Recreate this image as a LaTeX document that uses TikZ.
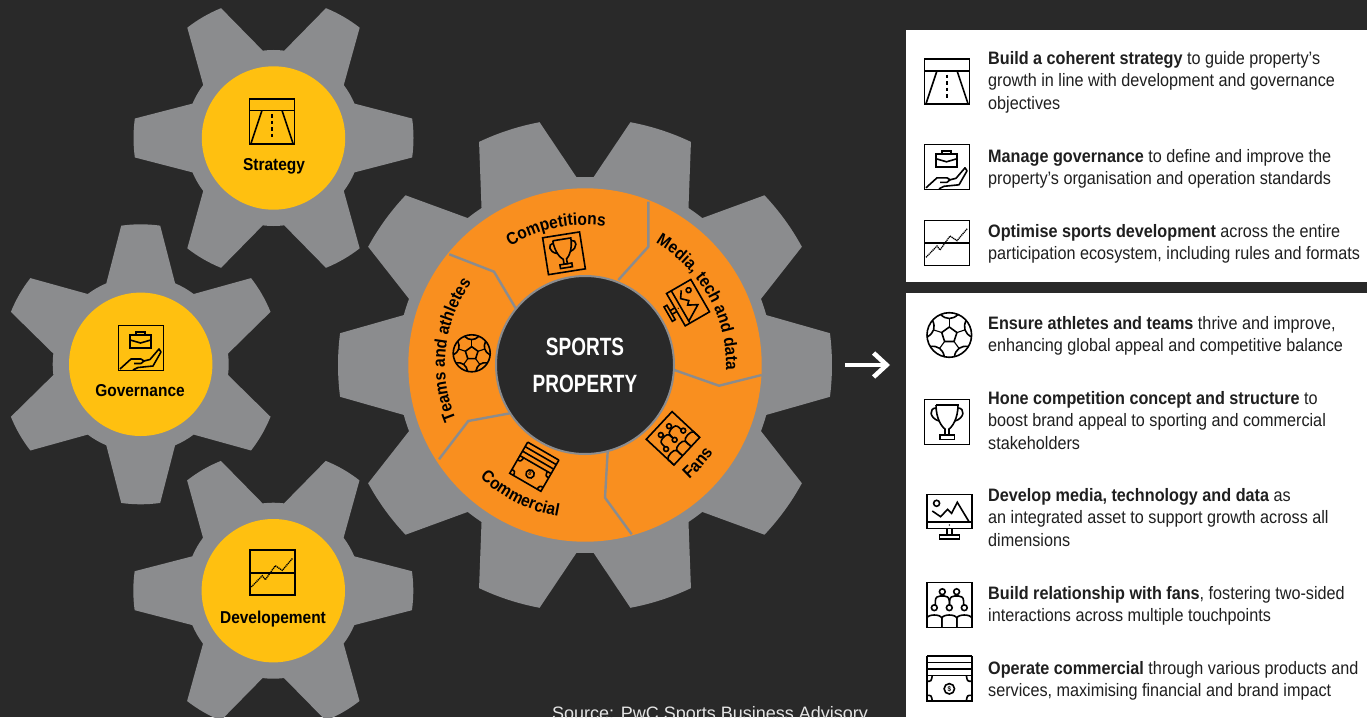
\documentclass[tikz,border=0pt]{standalone}
\usepackage{fontspec}
\setmainfont[FakeStretch=0.9]{Liberation Sans}
\newfontfamily\sourcefont{Liberation Sans}
\newfontfamily\centrefont[FakeStretch=0.76]{Liberation Sans}
\usetikzlibrary{arrows.meta,decorations.text}

\definecolor{bgdark}{HTML}{292929}
\definecolor{geargray}{HTML}{8B8C8E}
\definecolor{gearyellow}{HTML}{FFC010}
\definecolor{ringorange}{HTML}{F98F1F}
\definecolor{inkdark}{HTML}{1F1F1F}

\newcommand{\labelfont}{\fontsize{17.2}{20}\selectfont\bfseries}

\tikzset{
	yellowdisc/.style={circle, fill=gearyellow, minimum size=143.4pt, inner sep=0pt},
	gearlabel/.style={anchor=base, text=black, font=\labelfont},
	bullettext/.style={anchor=north west, inner sep=0pt, align=left, text=inkdark, font=\fontsize{18}{22.4}\selectfont},
	ringlabel/.style={decorate, decoration={text along path, text align=center, text={|\labelfont|#1}}},
	icon/.style={line width=1.6pt, draw=black},
	smallgear/.pic={
		\fill[geargray] (-23:88)
			\foreach \a in {0,60,...,300}{
				-- ({\a-23}:88) -- ({\a-8}:140) arc[start angle=\a-8, end angle=\a+8, radius=140]
				-- ({\a+23}:88) arc[start angle=\a+23, end angle=\a+37, radius=88]
			} -- cycle;
	},
	biggear/.pic={
		\fill[geargray] (-15.4:188)
			\foreach \a in {0,36,...,324}{
				-- ({\a-15.4}:188) -- ({\a-7.4}:247) arc[start angle=\a-7.4, end angle=\a+7.4, radius=247]
				-- ({\a+15.4}:188) arc[start angle=\a+15.4, end angle=\a+20.6, radius=188]
			} -- cycle;
	},
	iconroad/.pic={
		\draw[icon] (-22.5,-22.5) rectangle (22.5,22.5);
		\draw[icon] (-22.5,11) -- (22.5,11);
		\draw[icon] (-21,-22) -- (-10,11);
		\draw[icon] (21,-22) -- (10,11);
		\draw[icon, dash pattern=on 3.5pt off 3pt] (0,7) -- (0,-18);
	},
	iconcase/.pic={
		\draw[icon] (-22.5,-22.5) rectangle (22.5,22.5);
		\draw[icon] (-10.8,0) rectangle (9.8,13);
		\draw[icon] (-10.8,8) -- (-.5,5) -- (9.8,8);
		\draw[icon] (-5,13) -- (-5,16) -- (4,16) -- (4,13);
		\draw[icon, line join=round] (-21,-21) -- (-10,-11) -- (0,-11) -- (3,-13) -- (0,-15.5) -- (-7,-15.5);
		\draw[icon, line join=round] (3,-13) -- (9,-11.5) -- (18,-1) -- (20,-4) -- (12,-18) -- (-3,-19.5) -- (-8,-22);
	},
	iconchart/.pic={
		\draw[icon] (-22.5,-22.5) rectangle (22.5,22.5);
		\draw[icon] (-22.5,0) -- (22.5,0);
		\draw[line width=1.3pt, dash pattern=on 1.2pt off .7pt] (-21,-14.3) -- (-10,-3) -- (-7,-7) -- (3,7) -- (10,2.3) -- (20.5,14.7);
	},
	iconball/.pic={
		\draw[icon] (0,0) circle (22.3);
		\draw[icon, line join=round] (90:8) -- (162:8) -- (234:8) -- (306:8) -- (18:8) -- cycle;
		\foreach \a in {18,90,162,234,306}{
			\draw[line width=1.1pt] (\a:8) -- (\a:17);
			\draw[icon] ({\a-23}:22.3) .. controls ({\a-12}:15.5) and ({\a+12}:15.5) .. ({\a+23}:22.3);
		}
	},
	icontrophy/.pic={
		\draw[icon] (-22.5,-22.5) rectangle (22.5,22.5);
		\draw[icon] (-11,17) -- (11,17) .. controls (11,3) and (5,-5) .. (2,-7) -- (2,-13) -- (-2,-13) -- (-2,-7) .. controls (-5,-5) and (-11,3) .. (-11,17);
		\draw[icon] (-7,-13) rectangle (7.5,-17.5);
		\draw[icon] (-11,14) .. controls (-18,14) and (-18,4) .. (-8,1);
		\draw[icon] (11,14) .. controls (18,14) and (18,4) .. (8,1);
	},
	iconscreen/.pic={
		\draw[icon] (-22.5,-11.3) rectangle (22.5,22.5);
		\draw[icon] (-22.5,-4.7) -- (22.5,-4.7);
		\draw[icon] (-2.5,-11.3) -- (-2.5,-18) (2.5,-11.3) -- (2.5,-18);
		\draw[icon] (-10,-18) rectangle (10,-22);
		\draw[icon] (-17,6) -- (-8.7,.3) -- (-1.7,7.7) -- (2.3,3.7) -- (8,14.7) -- (19.7,-4.7);
		\draw[icon] (-12.7,13.7) circle (3);
		\fill (0,-8) circle (.8);
	},
	iconfans/.pic={
		\draw[icon] (-22.5,-22.5) rectangle (22.5,22.5);
		\foreach \c in {-7,7.3}{
			\draw[icon] (\c,13.3) circle (2.9);
			\draw[icon] ({\c-7},0) -- ({\c-7},4) .. controls ({\c-7},8) and ({\c-4},9) .. ({\c-2},9) -- ({\c+2},9) .. controls ({\c+4},9) and ({\c+7},8) .. ({\c+7},4) -- ({\c+7},0);
		}
		\foreach \c in {-15,0,15}{
			\draw[icon] (\c,-2.7) circle (2.9);
			\draw[icon] ({\c-7.5},-22.5) -- ({\c-7.5},-13) .. controls ({\c-6},-9) and ({\c+6},-9) .. ({\c+7.5},-13) -- ({\c+7.5},-22.5);
		}
	},
	iconmoney/.pic={
		\draw[icon] (-22.5,22.5) -- (22.5,22.5) (-22.5,16) -- (22.5,16) (-22.5,9.5) -- (22.5,9.5);
		\draw[icon] (-22.5,22.5) -- (-22.5,3) (22.5,22.5) -- (22.5,3);
		\draw[icon] (-22.5,3) -- (22.5,3) -- (22.5,-22.5) -- (-22.5,-22.5) -- cycle;
		\draw[icon] (-22.5,-3) .. controls (-18,-3) .. (-17,3) (22.5,-3) .. controls (18,-3) .. (17,3) (-22.5,-17) .. controls (-18,-17) .. (-17,-22.5) (22.5,-17) .. controls (18,-17) .. (17,-22.5);
		\draw[icon] (0,-10.5) circle (5.2);
		\node[transform shape, inner sep=0pt, font=\fontsize{7}{7}\selectfont\bfseries] (dollar) at (0,-10.5) {\$};
	},
}

\begin{document}
\begin{tikzpicture}[x=1pt, y=1pt]

	%Background
	\fill[bgdark] (0,0) rectangle (1367,-717);
	\useasboundingbox (0,0) rectangle (1367,-717);

	%Panels
	\fill[white] (905.5,-30) rectangle (1367,-282);
	\fill[white] (905.5,-293) rectangle (1367,-717);

	%Gears
	\pic at (273.5,-138) {smallgear};
	\pic[rotate=30] at (140.7,-364.3) {smallgear};
	\pic at (273.3,-590.7) {smallgear};
	\pic at (585,-365) {biggear};

	%Small discs
	\node[yellowdisc] (strategy) at (273.5,-138) {};
	\node[yellowdisc] (governance) at (140.7,-364.3) {};
	\node[yellowdisc] (development) at (273.3,-590.7) {};
	\pic at (272,-121.3) {iconroad};
	\pic at (141,-348) {iconcase};
	\pic at (272.3,-572.7) {iconchart};
	\node[gearlabel] (strategytext) at (274,-170.7) {Strategy};
	\node[gearlabel] (governancetext) at (140,-396.7) {Governance};
	\node[gearlabel] (developmenttext) at (273,-623.3) {Developement};

	%Orange ring
	\fill[ringorange] (585,-365) circle (176.7);
	\foreach \a/\b/\c in {{648.3,-201.7}/{648.3,-246.7}/{618.3,-280},
			{761.7,-375}/{719,-385.7}/{674.3,-370},
			{631.7,-534.3}/{605,-497.7}/{607.7,-451},
			{439,-459.3}/{468.3,-421}/{510,-413.3},
			{449.3,-254.3}/{494,-271.7}/{515.7,-308.3}}{
		\draw[geargray, line width=2.4pt] (\a) -- (\b) -- (\c);
	}
	\node[circle, fill=bgdark, draw=geargray, line width=2pt, minimum size=178pt, inner sep=0pt] (centre) at (585,-365) {};
	\node[anchor=center, text=white, align=center, font=\centrefont\fontsize{25}{37}\selectfont\bfseries] (centretext) at (585,-365.5) {SPORTS\\PROPERTY};

	%Ring labels
	\path[ringlabel=Competitions] (585,-365) ++(128:140) arc[start angle=128, end angle=76, radius=140];
	\path[ringlabel={Media, tech and data}] (585,-365) ++(68:141) arc[start angle=68, end angle=-10, radius=141];
	\path[ringlabel={Teams and athletes}] (585,-365) ++(210:140) arc[start angle=210, end angle=137, radius=140];
	\path[ringlabel=Fans] (585,-365) ++(-65:155) arc[start angle=-65, end angle=-17, radius=155];
	\path[ringlabel=Commercial] (585,-365) ++(212:154) arc[start angle=212, end angle=275, radius=154];

	%Ring icons
	\pic[rotate=9, scale=.83] at (564,-253.3) {icontrophy};
	\pic[rotate=-60, scale=.83] at (684,-305) {iconscreen};
	\pic[rotate=47, scale=.84] at (673,-438.3) {iconfans};
	\pic[rotate=-30, scale=.8] at (534.3,-466.7) {iconmoney};
	\pic[scale=.83] at (471.7,-353.3) {iconball};

	%Arrow
	\coordinate (arrowstart) at (845,-365);
	\coordinate (arrowend) at (890,-365);
	\draw[white, line width=4.6pt, -{Straight Barb[length=13pt, width=24pt]}] (arrowstart) -- (arrowend);

	%Panel icons
	\pic at (947,-81.7) {iconroad};
	\pic at (947,-166.8) {iconcase};
	\pic at (947,-243) {iconchart};
	\pic at (949.3,-335) {iconball};
	\pic at (947,-422) {icontrophy};
	\pic at (949.3,-517) {iconscreen};
	\pic at (949.3,-605) {iconfans};
	\pic at (949.3,-678.3) {iconmoney};

	%Panel texts
	\node[bullettext] (strategybullet) at (988,-48.4) {\strut\textbf{Build a coherent strategy} to guide property’s\\growth in line with development and governance\\objectives};
	\node[bullettext] (governancebullet) at (988,-146.4) {\strut\textbf{Manage governance} to define and improve the\\property’s organisation and operation standards};
	\node[bullettext] (developmentbullet) at (988,-221.4) {\strut\textbf{Optimise sports development} across the entire\\participation ecosystem, including rules and formats};
	\node[bullettext] (teamsbullet) at (988,-313.4) {\strut\textbf{Ensure athletes and teams} thrive and improve,\\enhancing global appeal and competitive balance};
	\node[bullettext] (competitionbullet) at (988,-388.4) {\strut\textbf{Hone competition concept and structure} to\\boost brand appeal to sporting and commercial\\stakeholders};
	\node[bullettext] (mediabullet) at (988,-485.4) {\strut\textbf{Develop media, technology and data} as\\an integrated asset to support growth across all\\dimensions};
	\node[bullettext] (fansbullet) at (988,-583.4) {\strut\textbf{Build relationship with fans}, fostering two-sided\\interactions across multiple touchpoints};
	\node[bullettext] (commercialbullet) at (988,-658.4) {\strut\textbf{Operate commercial} through various products and\\services, maximising financial and brand impact};

	%Source
	\node[anchor=base west, inner sep=0pt, text=white!90!black, font=\sourcefont\fontsize{18}{20}\selectfont] (source) at (552,-719) {Source: PwC Sports Business Advisory};

\end{tikzpicture}
\end{document}
